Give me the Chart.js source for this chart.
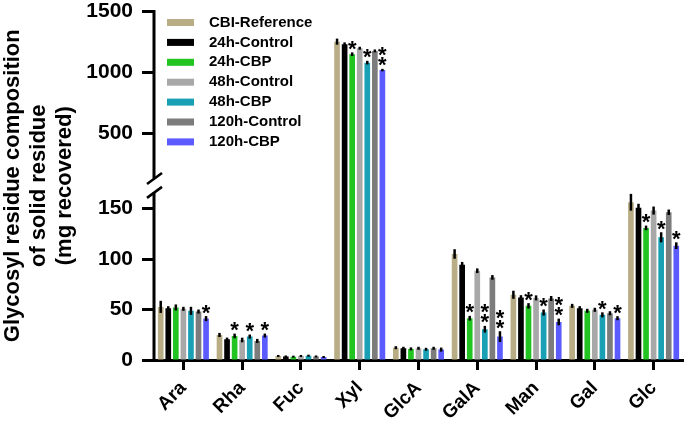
<!DOCTYPE html>
<html lang="en">
<head>
<meta charset="UTF-8">
<title>Glycosyl residue composition of solid residue</title>
<script src="https://cdn.jsdelivr.net/npm/chart.js@4/dist/chart.umd.min.js"></script>
<style>
  html, body { margin: 0; padding: 0; background: #fff; }
</style>
</head>
<body>
<canvas id="chart" width="685" height="424"></canvas>

<script>
// sugars on the x axis
const sugars = ['Ara', 'Rha', 'Fuc', 'Xyl', 'GlcA', 'GalA', 'Man', 'Gal', 'Glc'];
const yTicks = [0, 50, 100, 150, 500, 1000, 1500];

// mean values (mg recovered)
const cbiRef     = [52.6, 24.8, 4.0, 1253, 12.2, 105.0, 64.6, 53.6, 156.2];
const ctrl24     = [51.3, 20.5, 3.5, 1232, 11.6, 94.4, 61.9, 51.3, 150.7];
const cbp24      = [52.0, 23.8, 3.3, 1150, 11.0, 41.4, 53.6, 48.7, 130.8];
const ctrl48     = [50.7, 19.8, 4.0, 1199, 11.6, 88.4, 61.5, 49.7, 148.0];
const cbp48      = [48.7, 23.2, 4.3, 1081, 10.6, 30.5, 47.0, 44.7, 121.5];
const ctrl120    = [48.0, 18.9, 3.5, 1177, 11.6, 81.8, 60.9, 46.3, 146.3];
const cbp120     = [41.0, 24.2, 3.0, 1020, 10.3, 23.2, 37.7, 41.4, 113.2];

// error bars (+/-)
const cbiRefErr  = [6.0, 2.0, 1.0, 25, 1.5, 4.7, 4.0, 2.0, 8.3];
const ctrl24Err  = [2.0, 1.7, 1.0, 15, 1.5, 2.7, 2.3, 2.0, 4.0];
const cbp24Err   = [3.0, 2.3, 1.0, 15, 1.5, 2.3, 2.7, 2.0, 2.3];
const ctrl48Err  = [2.0, 2.3, 1.0, 12, 1.5, 2.3, 2.5, 2.0, 4.0];
const cbp48Err   = [4.0, 2.0, 1.0, 15, 1.5, 3.3, 3.0, 2.5, 5.0];
const ctrl120Err = [2.0, 2.0, 1.0, 12, 1.5, 2.3, 2.5, 2.0, 2.7];
const cbp120Err  = [2.5, 2.0, 1.0, 10, 2.0, 5.3, 3.3, 2.0, 3.3];

// number of asterisks above each bar
const noStars    = [0, 0, 0, 0, 0, 0, 0, 0, 0];
const cbp24Sig   = [0, 1, 0, 1, 0, 1, 1, 0, 1];
const cbp48Sig   = [0, 1, 0, 1, 0, 2, 1, 1, 1];
const cbp120Sig  = [1, 1, 0, 2, 0, 2, 2, 1, 1];

const FONT = "'Liberation Sans', Arial, sans-serif";
Chart.defaults.font.family = FONT;
Chart.defaults.color = '#000';

// broken y axis: 0-166 fills the lower part, 132-1500 is squeezed into the upper part
const LOW_MAX = 166, HIGH_MIN = 132;
const LOW_FRAC = 0.481, HIGH_FRAC = 0.521;

class BrokenScale extends Chart.LinearScale {
  getPixelForValue(v) {
    const h = this.bottom - this.top;
    let f;
    if (v <= LOW_MAX) f = v / LOW_MAX * LOW_FRAC;
    else f = HIGH_FRAC + (v - HIGH_MIN) / (this.max - HIGH_MIN) * (1 - HIGH_FRAC);
    return this.bottom - f * h;
  }
}
BrokenScale.id = 'broken';
BrokenScale.defaults = Chart.LinearScale.defaults;
Chart.register(BrokenScale);

// y axis line with the break marks
const axisBreak = {
  id: 'axisBreak',
  afterDraw(chart) {
    const ctx = chart.ctx;
    const s = chart.scales.y;
    const h = s.bottom - s.top;
    const x = chart.chartArea.left;
    const lowTop = s.bottom - h * LOW_FRAC;
    const highBottom = s.bottom - h * HIGH_FRAC;
    ctx.save();
    ctx.strokeStyle = '#000';
    ctx.lineWidth = 3;
    ctx.beginPath();
    ctx.moveTo(x, s.bottom + 1.5);
    ctx.lineTo(x, lowTop);
    ctx.moveTo(x, highBottom);
    ctx.lineTo(x, s.top - 1.5);
    ctx.stroke();
    ctx.lineWidth = 2.5;
    [lowTop, highBottom].forEach(yy => {
      ctx.beginPath();
      ctx.moveTo(x - 7, yy + 5.5);
      ctx.lineTo(x + 8, yy - 5.5);
      ctx.stroke();
    });
    ctx.restore();
  }
};

// error bars and significance asterisks
const errorStars = {
  id: 'errorStars',
  afterDatasetsDraw(chart) {
    const ctx = chart.ctx;
    const y = chart.scales.y;
    ctx.save();
    ctx.strokeStyle = '#000';
    ctx.fillStyle = '#000';
    ctx.lineWidth = 2.5;
    ctx.font = 'bold 22px ' + FONT;
    ctx.textAlign = 'center';
    ctx.textBaseline = 'alphabetic';
    chart.data.datasets.forEach((ds, i) => {
      chart.getDatasetMeta(i).data.forEach((bar, j) => {
        const v = ds.data[j], e = ds.errors[j];
        const top = y.getPixelForValue(v + e);
        const bot = y.getPixelForValue(v - e);
        ctx.beginPath();
        ctx.moveTo(bar.x, bot);
        ctx.lineTo(bar.x, top);
        ctx.stroke();
        for (let k = 0; k < ds.stars[j]; k++) {
          const cy = top - 9 - k * 10;
          ctx.fillText('*', bar.x, cy + 12.5);
        }
      });
    });
    ctx.restore();
  }
};

// legend inside the plot, top left
const boxLegend = {
  id: 'boxLegend',
  afterDraw(chart) {
    const ctx = chart.ctx;
    const area = chart.chartArea;
    ctx.save();
    ctx.font = 'bold 15px ' + FONT;
    ctx.textBaseline = 'middle';
    ctx.textAlign = 'left';
    chart.data.datasets.forEach((ds, i) => {
      const yy = area.top + 11 + i * 19.9;
      ctx.fillStyle = ds.backgroundColor;
      ctx.fillRect(area.left + 13, yy - 3.5, 27, 7);
      ctx.fillStyle = '#000';
      ctx.fillText(ds.label, area.left + 55, yy);
    });
    ctx.restore();
  }
};

function series(label, data, errors, stars, color) {
  return { label, data, errors, stars, backgroundColor: color, borderWidth: 0,
           categoryPercentage: 0.9, barPercentage: 0.75 };
}

const ctx = document.getElementById('chart').getContext('2d');
new Chart(ctx, {
  type: 'bar',
  data: {
    labels: sugars,
    datasets: [
      series('CBI-Reference', cbiRef, cbiRefErr, noStars, '#b8ad84'),
      series('24h-Control', ctrl24, ctrl24Err, noStars, '#000000'),
      series('24h-CBP', cbp24, cbp24Err, cbp24Sig, '#22c422'),
      series('48h-Control', ctrl48, ctrl48Err, noStars, '#a8a8a8'),
      series('48h-CBP', cbp48, cbp48Err, cbp48Sig, '#1aa0b5'),
      series('120h-Control', ctrl120, ctrl120Err, noStars, '#7c7c7c'),
      series('120h-CBP', cbp120, cbp120Err, cbp120Sig, '#5b5bff')
    ]
  },
  options: {
    responsive: false,
    animation: false,
    devicePixelRatio: 1,
    events: [],
    layout: { padding: { top: 0, right: 2, bottom: 0, left: 0 } },
    plugins: {
      legend: { display: false },
      tooltip: { enabled: false }
    },
    scales: {
      x: {
        grid: { drawOnChartArea: false, offset: false, tickLength: 10, tickWidth: 3, tickColor: '#000' },
        border: { display: true, width: 3, color: '#000' },
        ticks: {
          font: { size: 19, weight: 'bold' },
          color: '#000',
          minRotation: 45,
          maxRotation: 45,
          padding: 7
        },
        afterFit: s => { s.height = 64; }
      },
      y: {
        type: 'broken',
        min: 0,
        max: 1500,
        grid: { drawOnChartArea: false, tickLength: 12, tickWidth: 3, tickColor: '#000' },
        border: { display: false },
        ticks: {
          font: { size: 21, weight: 'bold' },
          color: '#000',
          padding: 9,
          autoSkip: false,
          callback: v => String(v)
        },
        afterBuildTicks: s => { s.ticks = yTicks.map(v => ({ value: v })); },
        title: {
          display: true,
          text: ['Glycosyl residue composition', 'of solid residue', '(mg recovered)'],
          font: { size: 22, weight: 'bold', lineHeight: 1.18 },
          color: '#000',
          padding: 0
        },
        afterFit: s => { s.width = 154; s.paddingTop = 11.5; }
      }
    }
  },
  plugins: [axisBreak, errorStars, boxLegend]
});
</script>
</body>
</html>
